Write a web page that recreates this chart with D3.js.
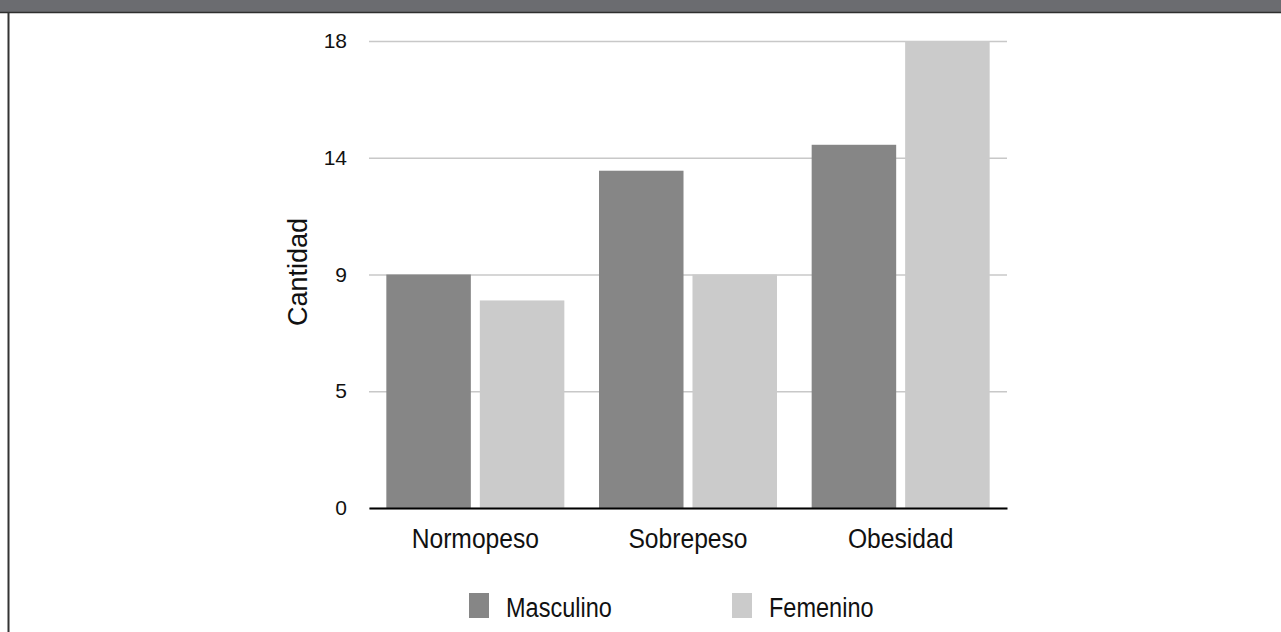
<!DOCTYPE html>
<html>
<head>
	<meta charset="utf-8">
	<title>Cantidad por estado nutricional</title>
	<style>
		body { margin: 0; background: #fff; }
		svg { display: block; font-family: "Liberation Sans", Arial, sans-serif; }
	</style>
</head>
<body>
	<svg id="chart" width="1281" height="632"></svg>
<script src="https://cdn.jsdelivr.net/npm/d3@7"></script>
<script>
	// datos
	const categories = ["Normopeso", "Sobrepeso", "Obesidad"]
	const seriesNames = ["Masculino", "Femenino"]
	const masculino = [9, 13, 14]
	const femenino = [8, 9, 18]
	const yTicks = [0, 4.5, 9, 13.5, 18]
	const colors = ["#868686", "#cbcbcb"]

	const svg = d3.select("#chart")

	// marco: banda superior gris y borde izquierdo
	svg.append("rect").attr("x", 0).attr("y", 0).attr("width", 1281).attr("height", 12)
		.attr("fill", "#6b6c70")
	svg.append("line").attr("x1", 0).attr("x2", 1281).attr("y1", 12.5).attr("y2", 12.5)
		.attr("stroke", "#2e2e2e").attr("stroke-width", 1.5)
	svg.append("line").attr("x1", 8.5).attr("x2", 8.5).attr("y1", 12).attr("y2", 632)
		.attr("stroke", "#333").attr("stroke-width", 2)

	const pLeft = 369, pRight = 1007, pTop = 41, pBottom = 508

	// escalas
	const x0 = d3.scaleBand().domain(categories).range([pLeft, pRight])
		.paddingInner(0.163).paddingOuter(0.0815)
	const x1 = d3.scaleBand().domain(seriesNames).range([0, x0.bandwidth()]).paddingInner(0.096)
	const y = d3.scaleLinear().domain([0, 18]).range([pBottom, pTop])
	const color = d3.scaleOrdinal(colors).domain(seriesNames)

	// rejilla + etiquetas eje Y
	const gy = svg.append("g").attr("transform", `translate(${pLeft},0)`)
		.call(d3.axisLeft(y).tickValues(yTicks).tickFormat(d => Math.round(d))
			.tickSize(-(pRight - pLeft)).tickPadding(22))
	gy.select(".domain").remove()
	gy.selectAll(".tick line").attr("stroke", "#c8c8c8").attr("stroke-width", 1.5)
	gy.selectAll(".tick text").attr("font-size", 21).attr("fill", "#111")
		.attr("font-family", "'Liberation Sans', Arial, sans-serif")

	// barras
	const rows = categories.map((c, i) => ({ cat: c, vals: [masculino[i], femenino[i]] }))
	svg.append("g").selectAll("g").data(rows).enter().append("g")
		.attr("transform", d => `translate(${x0(d.cat)},0)`)
		.selectAll("rect").data(d => d.vals.map((v, j) => ({ key: seriesNames[j], v: v })))
		.enter().append("rect")
		.attr("x", d => x1(d.key))
		.attr("width", x1.bandwidth())
		.attr("y", d => y(d.v))
		.attr("height", d => y(0) - y(d.v))
		.attr("fill", d => color(d.key))

	// eje X
	const gx = svg.append("g").attr("transform", `translate(0,${pBottom})`)
		.call(d3.axisBottom(x0).tickSize(0).tickFormat(""))
	gx.select(".domain").attr("stroke", "#000").attr("stroke-width", 2)

	svg.append("g").selectAll("text").data(categories).enter().append("text")
		.attr("transform", d => `translate(${x0(d) + x0.bandwidth() / 2},548) scale(0.88,1)`)
		.attr("text-anchor", "middle").attr("font-size", 28).attr("fill", "#111")
		.text(d => d)

	// titulo eje Y
	svg.append("text")
		.attr("transform", "translate(307,272) rotate(-90)")
		.attr("text-anchor", "middle").attr("font-size", 27).attr("fill", "#111")
		.text("Cantidad")

	// leyenda
	const legX = [469, 732]
	const leg = svg.append("g").selectAll("g").data(seriesNames).enter().append("g")
		.attr("transform", (d, i) => `translate(${legX[i]},593)`)
	leg.append("rect").attr("width", 20).attr("height", 25).attr("fill", d => color(d))
	leg.append("text")
		.attr("transform", "translate(37,24) scale(0.84,1)")
		.attr("font-size", 28).attr("fill", "#111")
		.text(d => d)
</script>
</body>
</html>
